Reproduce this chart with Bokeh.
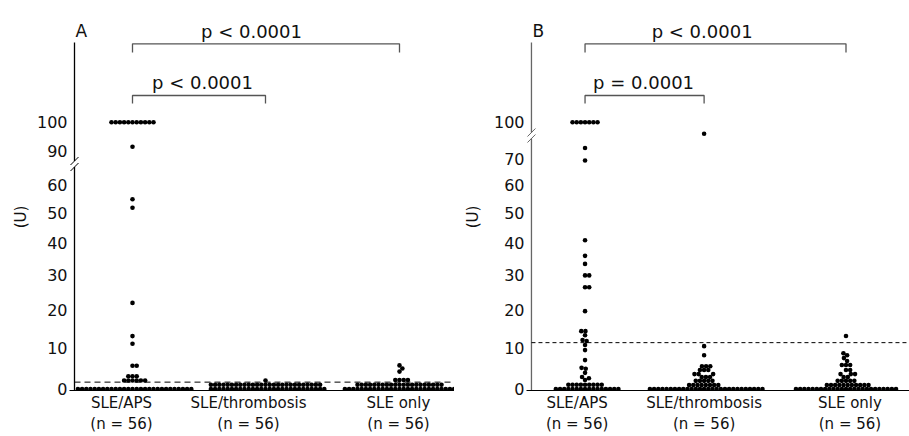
import numpy as np
from bokeh.plotting import figure
from bokeh.layouts import row
from bokeh.models import FixedTicker, LinearAxis, ColumnDataSource
from bokeh.core.properties import value
from bokeh.embed import file_html
from bokeh.resources import INLINE

# ---------------- data ----------------
groups = ["SLE/APS", "SLE/thrombosis", "SLE only"]
group_n = ["(n = 56)", "(n = 56)", "(n = 56)"]
panel_letters = ["A", "B"]
y_title = "(U)"

ticks_A = [0, 10, 20, 30, 40, 50, 60, 90, 100]
ticks_B = [0, 10, 20, 30, 40, 50, 60, 70, 100]

# Panel A: antibody level (U) and number of patients at that level
A_aps_values = [100, 91.5, 55, 52, 22, 13, 11, 5.5, 3, 2, 0]
A_aps_counts = [11, 1, 1, 1, 1, 1, 1, 2, 3, 6, 28]
A_thr_values = [2, 1, 0]
A_thr_counts = [1, 27, 28]
A_only_values = [5.6, 4.85, 4.1, 2.1, 1, 0]
A_only_counts = [1, 1, 1, 4, 21, 28]
cutoff_A = 1.6
pvals_A = ["p < 0.0001", "p < 0.0001"]   # APS vs thrombosis, APS vs SLE only

# Panel B
B_aps_values = [100, 74.5, 69.5, 41, 36, 33.5, 30, 26.5, 19.7, 14.3, 13.2, 12, 11.7,
                10.7, 9.4, 6.9, 5, 4.8, 3.8, 2.8, 2.5, 2.1, 1, 0]
B_aps_counts = [7, 1, 1, 1, 1, 1, 2, 2, 1, 2, 1, 1, 1, 1, 1, 1, 1, 1, 1, 1, 1, 1, 9, 16]
B_thr_values = [96, 10.4, 8.1, 5.4, 4.5, 3.5, 2.8, 1.9, 0.9, 0]
B_thr_counts = [1, 1, 1, 3, 3, 3, 3, 5, 8, 28]
B_only_values = [13, 8.6, 8.1, 7.4, 6.7, 5.7, 4.5, 3.5, 2.8, 1.9, 0.9, 0]
B_only_counts = [1, 1, 1, 1, 1, 3, 2, 3, 2, 5, 11, 25]
cutoff_B = 11.3
pvals_B = ["p = 0.0001", "p < 0.0001"]

break_A = 80   # axis break lies between 60 and 90
break_B = 90   # axis break lies between 70 and 100

# ---------------- layout / style ----------------
FONT = "DejaVu Sans"
TXT = "#111111"
H = 436
BOTTOM = 46
Y0, Y1 = -1.5, 388.5       # frame, in px above the zero line
AXIS_TOP = 346.5
LOW_SCALE = 433.0          # compressed lower segment
UP_100 = 266.8             # position of 100 on the upper segment
UP_SLOPE = 2.88


def yt(v, brk):
    v = np.asarray(v, dtype=float)
    return np.where(v < brk, LOW_SCALE * np.log1p(v / 100.0), UP_100 + (v - 100.0) * UP_SLOPE)


def swarm(vals, cnts, brk, center, d=4.2):
    ys = yt(np.repeat(vals, cnts), brk)
    order = np.argsort(ys, kind="stable")
    cands = np.round(np.arange(-90, 90.001, 0.1), 2)
    cands = cands[np.lexsort((-cands, np.abs(cands)))]
    px, py = [], []
    xs = np.zeros(len(ys))
    for i in order:
        y = ys[i]
        if px:
            dx = cands[:, None] - np.array(px)[None, :]
            dy = y - np.array(py)[None, :]
            ok = np.all(dx * dx + dy * dy >= d * d - 1e-6, axis=1)
            o = cands[np.argmax(ok)]
        else:
            o = 0.0
        px.append(o)
        py.append(y)
        xs[i] = o
    return center + xs, ys


def label_strip(width, cx):
    f = figure(width=width, height=H, x_range=(0, width), y_range=(Y0, Y1),
               output_backend="svg", toolbar_location=None, title=None,
               x_axis_location=None, y_axis_location=None,
               min_border_left=0, min_border_right=0, min_border_top=0,
               min_border_bottom=BOTTOM)
    f.grid.visible = False
    f.outline_line_color = None
    f.text(x=[cx], y=[172.0], text=[y_title], angle=np.pi / 2, text_align="center",
           text_baseline="middle", text_font=value(FONT), text_font_size=value("15px"),
           text_color=TXT)
    return f


def style_x_axis(ax, ticks, labels, standoff, line_color):
    ax.ticker = FixedTicker(ticks=ticks)
    ax.major_label_overrides = {x: t for x, t in zip(ticks, labels)}
    ax.axis_line_color = line_color
    ax.axis_line_width = 1.2
    ax.major_tick_line_color = None
    ax.minor_tick_line_color = None
    ax.major_tick_out = 0
    ax.major_label_standoff = standoff
    ax.major_label_text_font = FONT
    ax.major_label_text_font_size = "15px"
    ax.major_label_text_color = TXT


def make_panel(width, left_border, xmax, centers, label_x, series, brk, ticks, cutoff,
               dash, pvals, ptext_x, letter, axis_color, break_at):
    p = figure(width=width, height=H, x_range=(-5, xmax), y_range=(Y0, Y1),
               output_backend="svg", toolbar_location=None, title=None,
               min_border_left=left_border, min_border_right=0, min_border_top=0,
               min_border_bottom=BOTTOM)
    p.grid.visible = False
    p.outline_line_color = None
    p.background_fill_color = "white"
    p.border_fill_color = "white"

    # y axis: ticks on the broken scale, line drawn separately
    ypos = [round(float(yt(v, brk)), 2) for v in ticks]
    p.yaxis.ticker = FixedTicker(ticks=ypos)
    p.yaxis.major_label_overrides = {pos: str(v) for pos, v in zip(ypos, ticks)}
    p.yaxis.axis_line_color = None
    p.yaxis.major_tick_line_color = None
    p.yaxis.minor_tick_line_color = None
    p.yaxis.major_tick_out = 0
    p.yaxis.major_label_standoff = 2
    p.yaxis.major_label_text_font = FONT
    p.yaxis.major_label_text_font_size = "16px"
    p.yaxis.major_label_text_color = TXT

    # x axis: group names, with the group sizes on a second row
    style_x_axis(p.xaxis[0], label_x, groups, 3, "black")
    ax2 = LinearAxis()
    style_x_axis(ax2, label_x, group_n, 0, None)
    p.add_layout(ax2, "below")

    # vertical axis line with break
    p.segment(x0=[0, 0], y0=[Y0, break_at + 3], x1=[0, 0], y1=[break_at - 3, AXIS_TOP],
              line_color=axis_color, line_width=1.3)
    p.segment(x0=[-4, -4], y0=[break_at - 3 - 4, break_at + 3 - 4],
              x1=[4, 4], y1=[break_at - 3 + 4, break_at + 3 + 4],
              line_color=axis_color, line_width=1)

    # cutoff
    yc = float(yt(cutoff, brk))
    p.segment(x0=[0], y0=[yc], x1=[xmax], y1=[yc], line_color="black", line_width=1,
              line_dash=dash)

    # dots
    xs, ys = [], []
    for c, (vals, cnts) in zip(centers, series):
        x, y = swarm(vals, cnts, brk, c)
        xs.extend(x)
        ys.extend(y)
    src = ColumnDataSource(dict(x=xs, y=ys))
    p.scatter("x", "y", source=src, size=4.6, fill_color="black", line_color=None)

    # significance brackets
    c0, c1, c2 = centers
    p.multi_line(xs=[[c0, c0, c1, c1], [c0, c0, c2, c2]],
                 ys=[[285.5, 293.5, 293.5, 285.5], [336.5, 345.2, 345.2, 336.5]],
                 line_color="#555555", line_width=1.3)
    p.text(x=ptext_x, y=[306.8, 357.8], text=pvals, text_align="center",
           text_baseline="alphabetic", text_font=value(FONT),
           text_font_size=value("18px"), text_color=TXT)
    p.text(x=[1], y=[358.5], text=[letter], text_align="left", text_baseline="alphabetic",
           text_font=value(FONT), text_font_size=value("17px"), text_color=TXT)
    return p


labA = label_strip(30, 20)
pA = make_panel(424, 39, 380, [58, 191, 325], [47, 174, 324],
                [(A_aps_values, A_aps_counts), (A_thr_values, A_thr_counts),
                 (A_only_values, A_only_counts)],
                break_A, ticks_A, cutoff_A, "6 4", pvals_A, [128, 177], panel_letters[0],
                "black", 225.0)
labB = label_strip(36, 18.5)
pB = make_panel(419, 33, 381, [54, 174, 317], [46, 174, 321],
                [(B_aps_values, B_aps_counts), (B_thr_values, B_thr_counts),
                 (B_only_values, B_only_counts)],
                break_B, ticks_B, cutoff_B, "4 3", pvals_B, [113, 172], panel_letters[1],
                "#666666", 253.5)

layout = row(labA, pA, labB, pB)
open("out.html", "w").write(file_html(layout, INLINE))
